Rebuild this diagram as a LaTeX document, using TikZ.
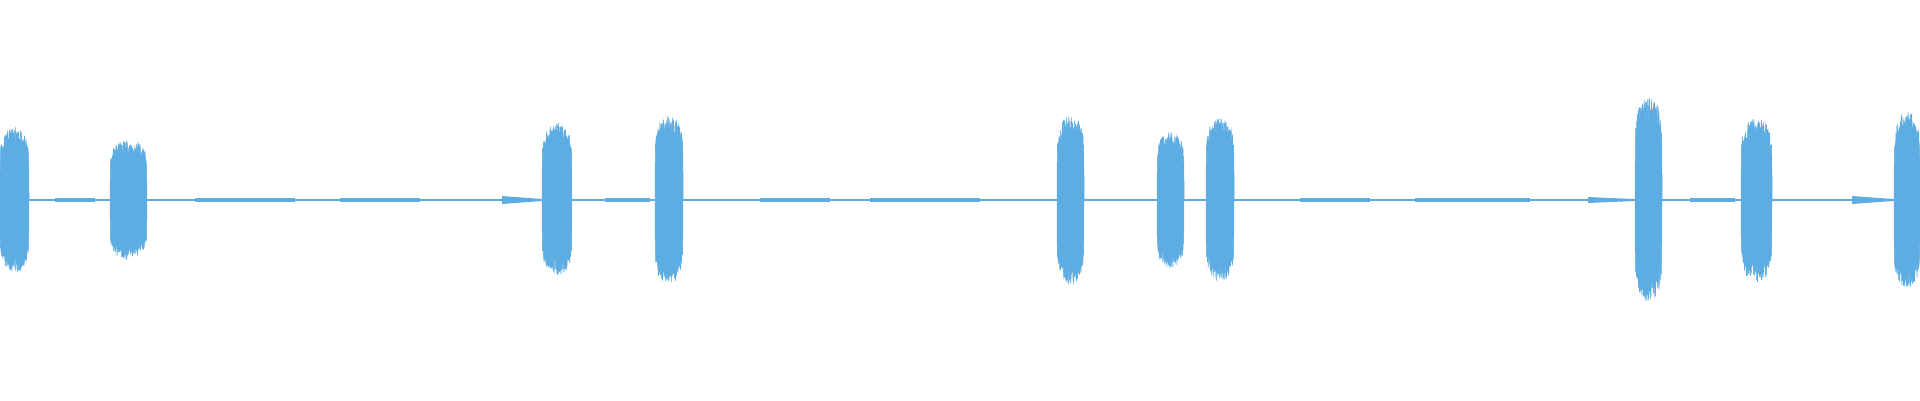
\documentclass[tikz,border=0pt]{standalone}
\definecolor{wavecol}{RGB}{93,173,226}
\begin{document}
\begin{tikzpicture}
[x=0.1mm, y=-0.1mm,
wave/.style={fill=wavecol, draw=wavecol, line width=0.05mm},
base/.style={draw=wavecol, line width=0.15mm},
hum/.style={fill=wavecol}
]
\pgfmathsetseed{7}
% burst: from x #1 to x #2, half height #3
\newcommand\burst[3]{%
  \fill[wave] plot[domain=#1:#2, samples=80]
    (\x,{200-#3*(sin(180*(\x-#1)/(#2-#1)))^0.12*(0.78+0.22*rnd)})
  -- plot[domain=#2:#1, samples=80]
    (\x,{200+#3*(sin(180*(\x-#1)/(#2-#1)))^0.12*(0.78+0.22*rnd)}) -- cycle;}
% quiet stretch
\newcommand\hum[3]{%
  \fill[hum] (#1,{200-#3}) rectangle (#2,{200+#3});}

\useasboundingbox (0,0) rectangle (1920,400);

% baseline
\draw[base] (0,200) -- (1920,200);

% quiet stretches
\hum{55}{95}{2}
\hum{195}{295}{2}
\hum{340}{420}{2}
\hum{605}{650}{2}
\hum{760}{830}{2}
\hum{870}{980}{2}
\hum{1300}{1370}{2}
\hum{1415}{1530}{2}
\hum{1690}{1735}{2}
\fill[hum] (502,196) -- (542,199) -- (542,201) -- (502,204) -- cycle;
\fill[hum] (1588,197) -- (1634,199) -- (1634,201) -- (1588,203) -- cycle;
\fill[hum] (1852,196) -- (1893,199) -- (1893,201) -- (1852,204) -- cycle;

% bursts
\burst{0}{29}{72}
\burst{110}{147}{60}
\burst{542}{572}{76}
\burst{655}{683}{84}
\burst{1057}{1084}{84}
\burst{1157}{1184}{68}
\burst{1206}{1234}{82}
\burst{1635}{1662}{102}
\burst{1741}{1772}{82}
\burst{1894}{1920}{88}
\end{tikzpicture}
\end{document}
